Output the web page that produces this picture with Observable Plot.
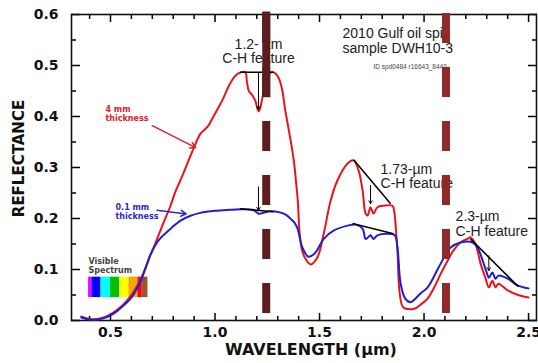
<!DOCTYPE html>
<html><head><meta charset="utf-8">
<script src="https://cdn.jsdelivr.net/npm/d3@7"></script>
<script src="https://cdn.jsdelivr.net/npm/@observablehq/plot@0.6"></script>
<style>html,body{margin:0;padding:0;background:#fff;}</style>
</head><body><div id="chart"></div>
<script>
// 4 mm thickness (red)
const redWl = [0.36,0.40,0.45,0.50,0.55,0.60,0.645,0.69,0.72,0.75,0.787,0.81,0.845,0.87,0.90,0.93,0.965,0.99,1.017,1.04,1.06,1.08,1.10,1.12,1.145,1.152,1.162,1.178,1.195,1.203,1.21,1.217,1.228,1.24,1.252,1.27,1.29,1.305,1.32,1.335,1.35,1.365,1.378,1.388,1.396,1.404,1.415,1.43,1.457,1.49,1.52,1.553,1.586,1.634,1.663,1.687,1.706,1.72,1.73,1.744,1.758,1.777,1.806,1.849,1.858,1.866,1.873,1.883,1.90,1.935,1.96,1.983,2.017,2.05,2.08,2.11,2.14,2.18,2.208,2.222,2.246,2.27,2.294,2.31,2.327,2.342,2.356,2.40,2.45,2.50];
const redRefl = [0.008,0.003,0.004,0.012,0.027,0.05,0.082,0.127,0.157,0.188,0.225,0.252,0.285,0.31,0.34,0.366,0.38,0.398,0.418,0.436,0.455,0.47,0.481,0.486,0.487,0.47,0.45,0.442,0.428,0.415,0.41,0.418,0.44,0.465,0.478,0.487,0.484,0.475,0.455,0.415,0.38,0.345,0.31,0.27,0.235,0.175,0.14,0.123,0.11,0.124,0.17,0.235,0.275,0.308,0.314,0.294,0.255,0.21,0.206,0.222,0.21,0.222,0.225,0.225,0.212,0.175,0.135,0.055,0.026,0.022,0.024,0.031,0.043,0.066,0.092,0.115,0.137,0.155,0.16,0.163,0.15,0.112,0.083,0.065,0.078,0.065,0.072,0.059,0.05,0.045];
// 0.1 mm thickness (blue)
const blueWl = [0.36,0.40,0.44,0.48,0.52,0.55,0.60,0.645,0.67,0.69,0.715,0.74,0.79,0.835,0.88,0.93,1.00,1.07,1.12,1.18,1.20,1.21,1.22,1.24,1.26,1.31,1.34,1.36,1.38,1.395,1.418,1.447,1.48,1.52,1.567,1.634,1.672,1.706,1.72,1.73,1.744,1.758,1.777,1.825,1.86,1.873,1.888,1.91,1.935,1.983,2.017,2.08,2.127,2.175,2.232,2.256,2.28,2.30,2.31,2.327,2.342,2.356,2.40,2.447,2.50];
const blueRefl = [0.006,0.002,0.002,0.006,0.015,0.025,0.045,0.078,0.105,0.128,0.148,0.162,0.181,0.196,0.205,0.211,0.215,0.217,0.218,0.217,0.212,0.209,0.21,0.212,0.214,0.212,0.207,0.2,0.192,0.18,0.143,0.125,0.133,0.16,0.176,0.186,0.188,0.18,0.16,0.162,0.167,0.16,0.167,0.17,0.167,0.143,0.072,0.043,0.036,0.053,0.065,0.112,0.143,0.153,0.153,0.143,0.118,0.094,0.084,0.094,0.082,0.088,0.082,0.069,0.063];

// continuum lines (black) and feature arrows
const contX1 = [1.12, 1.12, 1.663, 1.658, 2.222];
const contY1 = [0.487, 0.219, 0.315, 0.19, 0.16];
const contX2 = [1.28, 1.28, 1.84, 1.854, 2.452];
const contY2 = [0.487, 0.213, 0.229, 0.17, 0.066];
const depthX = [1.208, 1.208, 1.744, 2.31];
const depthTop = [0.486, 0.262, 0.265, 0.127];
const depthBottom = [0.414, 0.216, 0.229, 0.098];

// visible spectrum bands
const bandStart = [0.395,0.411,0.455,0.50,0.545,0.588,0.631,0.652];
const bandEnd   = [0.411,0.455,0.50,0.545,0.588,0.631,0.652,0.679];
const bandColor = ["#ff00ff","#0000ff","#00ffff","#00c000","#ffff00","#f5a800","#ff0000","#a0522d"];
const bandLow = 0.045, bandHigh = 0.085;

// marker wavelengths (dashed)
const markerX = [1.245, 2.105];
const markerColor = ["#5b1d1d", "#8e2b2b"];

// ticks
const xMajor = [0.5, 1.0, 1.5, 2.0, 2.5];
const xMinor = [0.4,0.6,0.7,0.8,0.9,1.1,1.2,1.3,1.4,1.6,1.7,1.8,1.9,2.1,2.2,2.3,2.4];
const yMajor = [0, 0.1, 0.2, 0.3, 0.4, 0.5, 0.6];
const yMinor = [0.05, 0.15, 0.25, 0.35, 0.45, 0.55];

// annotations
const featureText = ["1.2- µm\nC-H feature", "1.73-µm\nC-H feature", "2.3-µm\nC-H feature"];
const featureX = [1.208, 1.792, 2.151];
const featureY = [0.528, 0.283, 0.189];
const sampleText = "2010 Gulf oil spill\nsample DWH10-3";
const idText = "ID spd0484 r16643_8440";
const thickText = ["4 mm\nthickness", "0.1 mm\nthickness"];
const thickX = [0.476, 0.524];
const thickY = [0.406, 0.213];
const thickColor = ["#e0202a", "#2a2ad0"];
const thickArrowX1 = [0.70, 0.723], thickArrowY1 = [0.382, 0.216];
const thickArrowX2 = [0.907, 0.862], thickArrowY2 = [0.339, 0.209];

const red = redWl.map((x, i) => ({x, y: redRefl[i]}));
const blue = blueWl.map((x, i) => ({x, y: blueRefl[i]}));
const cont = contX1.map((x1, i) => ({x1, y1: contY1[i], x2: contX2[i], y2: contY2[i]}));
const depth = depthX.map((x, i) => ({x, y1: depthTop[i], y2: depthBottom[i]}));
const bands = bandStart.map((s, i) => ({x1: s, x2: bandEnd[i], c: bandColor[i]}));
const markers = markerX.map((x, i) => ({x, c: markerColor[i]}));
const features = featureText.map((t, i) => ({t, x: featureX[i], y: featureY[i]}));
const thick = thickText.map((t, i) => ({t, x: thickX[i], y: thickY[i], c: thickColor[i],
  x1: thickArrowX1[i], y1: thickArrowY1[i], x2: thickArrowX2[i], y2: thickArrowY2[i]}));

const tickFont = {fontFamily: "DejaVu Sans", fontWeight: "bold", fontSize: 14, fill: "#111"};
const fmt = d3.format(".1f");

const chart = Plot.plot({
  width: 538, height: 363,
  marginLeft: 71, marginRight: 2, marginTop: 14, marginBottom: 43,
  style: {fontFamily: "Liberation Sans, Arial, sans-serif", background: "#fff"},
  x: {domain: [0.3134, 2.538], axis: null},
  y: {domain: [0, 0.6], axis: null},
  marks: [
    // ticks, inward
    Plot.axisX(xMajor, {anchor: "bottom", tickSize: -7, strokeWidth: 1.5, fill: "none", label: null}),
    Plot.axisX(xMinor, {anchor: "bottom", tickSize: -4, strokeWidth: 1.5, fill: "none", label: null}),
    Plot.axisX(xMajor, {anchor: "top", tickSize: -7, strokeWidth: 1.5, fill: "none", label: null}),
    Plot.axisX(xMinor, {anchor: "top", tickSize: -4, strokeWidth: 1.5, fill: "none", label: null}),
    Plot.axisY(yMajor, {anchor: "left", tickSize: -9, strokeWidth: 1.5, fill: "none", label: null}),
    Plot.axisY(yMinor, {anchor: "left", tickSize: -5, strokeWidth: 1.5, fill: "none", label: null}),
    Plot.axisY(yMajor, {anchor: "right", tickSize: -9, strokeWidth: 1.5, fill: "none", label: null}),
    Plot.axisY(yMinor, {anchor: "right", tickSize: -5, strokeWidth: 1.5, fill: "none", label: null}),
    // tick labels
    Plot.axisX(xMajor, {anchor: "bottom", tickSize: 0, tickPadding: 7, tickFormat: fmt, label: null, ...tickFont}),
    Plot.axisY(yMajor, {anchor: "left", tickSize: 0, tickPadding: 13, tickFormat: fmt, label: null, ...tickFont}),
    Plot.frame({stroke: "#111", strokeWidth: 1.6}),
    // axis titles
    Plot.text(["WAVELENGTH (µm)"], {frameAnchor: "bottom", dy: 29, dx: 7, textAnchor: "middle", lineAnchor: "middle",
      fontFamily: "DejaVu Sans", fontWeight: "bold", fontSize: 16, fill: "#111"}),
    Plot.text(["REFLECTANCE"], {frameAnchor: "left", dx: -52, dy: -9, rotate: -90, textAnchor: "middle", lineAnchor: "middle",
      fontFamily: "DejaVu Sans", fontWeight: "bold", fontSize: 15, fill: "#111"}),
    // visible spectrum
    Plot.rect(bands, {x1: "x1", x2: "x2", y1: bandLow, y2: bandHigh, fill: "c"}),
    Plot.text(["Visible\nSpectrum"], {x: 0.395, y: 0.107, textAnchor: "start", lineAnchor: "middle", lineHeight: 1.15,
      fontFamily: "DejaVu Sans", fontWeight: "bold", fontSize: 8, fill: "#444"}),
    // spectra
    Plot.line(red, {x: "x", y: "y", stroke: "#e8141b", strokeWidth: 2, curve: "catmull-rom"}),
    Plot.line(blue, {x: "x", y: "y", stroke: "#1f1fd0", strokeWidth: 2, curve: "catmull-rom"}),
    // continuum and depth arrows
    Plot.link(cont, {x1: "x1", y1: "y1", x2: "x2", y2: "y2", stroke: "#000", strokeWidth: 1.5}),
    Plot.arrow(depth, {x1: "x", y1: "y1", x2: "x", y2: "y2", stroke: "#000", strokeWidth: 1, headLength: 5}),
    // thickness labels and arrows
    Plot.text(thick, {x: "x", y: "y", text: "t", fill: "c", textAnchor: "start", lineAnchor: "middle", lineHeight: 1.15,
      fontFamily: "DejaVu Sans", fontWeight: "bold", fontSize: 8}),
    Plot.arrow(thick, {x1: "x1", y1: "y1", x2: "x2", y2: "y2", stroke: "c", strokeWidth: 1.5, headLength: 6}),
    // feature labels
    Plot.text(features.slice(0, 1), {x: "x", y: "y", text: "t", textAnchor: "middle", lineAnchor: "middle", lineHeight: 1.05,
      fontSize: 14, fill: "#222"}),
    Plot.text(features.slice(1), {x: "x", y: "y", text: "t", textAnchor: "start", lineAnchor: "middle", lineHeight: 1.05,
      fontSize: 14, fill: "#222"}),
    Plot.text([sampleText], {x: 1.61, y: 0.549, textAnchor: "start", lineAnchor: "middle", lineHeight: 1.05,
      fontSize: 14, fill: "#222"}),
    Plot.text([idText], {x: 1.758, y: 0.497, textAnchor: "start", lineAnchor: "middle", fontSize: 6.5, fill: "#444"}),
    // dashed marker lines
    Plot.ruleX(markers, {x: "x", y1: 0, y2: 0.605, stroke: "c", strokeWidth: 8,
      strokeDasharray: "30,24", strokeDashoffset: 47}),
    Plot.ruleX(markers.slice(0, 1), {x: "x", y1: 0.437, y2: 0.605, stroke: "c", strokeWidth: 8})
  ]
});
document.getElementById("chart").appendChild(chart);
</script>
</body></html>
